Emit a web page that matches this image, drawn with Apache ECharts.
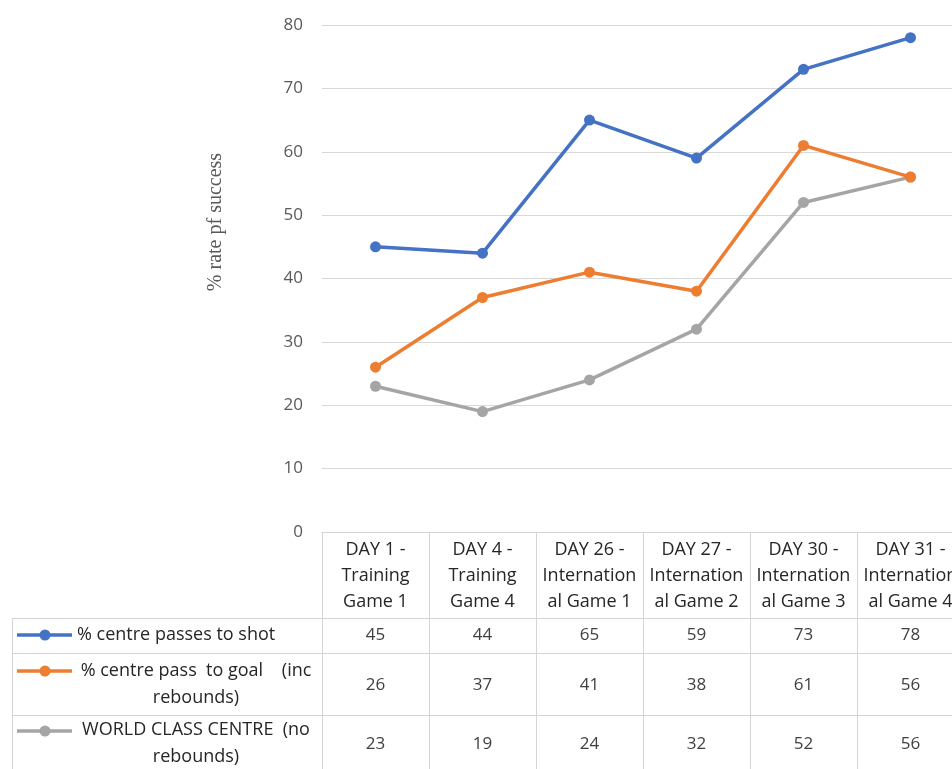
<!DOCTYPE html>
<html>
<head>
<meta charset="utf-8">
<script src="https://cdn.jsdelivr.net/npm/echarts@6/dist/echarts.min.js"></script>
<style>
html,body{margin:0;padding:0;background:#fff;}
#c{width:952px;height:769px;}
</style>
</head>
<body>
<div id="c"></div>
<script>
var categories = [
  "DAY 1 -\nTraining\nGame 1",
  "DAY 4 -\nTraining\nGame 4",
  "DAY 26 -\nInternation\nal Game 1",
  "DAY 27 -\nInternation\nal Game 2",
  "DAY 30 -\nInternation\nal Game 3",
  "DAY 31 -\nInternation\nal Game 4"
];
var seriesNames = [
  "% centre passes to shot",
  "% centre pass  to goal    (inc\nrebounds)",
  "WORLD CLASS CENTRE  (no\nrebounds)"
];
var passesToShot = [45, 44, 65, 59, 73, 78];
var passToGoal = [26, 37, 41, 38, 61, 56];
var worldClass = [23, 19, 24, 32, 52, 56];
var yTicks = { min: 0, max: 80, interval: 10 };
var yAxisTitle = "% rate pf success";

var colors = ["#4472C4", "#ED7D31", "#A5A5A5"];
var FONT = "Open Sans";
var border = "#D4D4D4";

var chart = echarts.init(document.getElementById('c'), null, {renderer: 'canvas'});

function rowAxis(values, margin) {
  return {
    type: 'category', gridIndex: 0, position: 'bottom', data: values.map(String),
    boundaryGap: true,
    axisLine: {show: false}, axisTick: {show: false}, splitLine: {show: false},
    axisLabel: {interval: 0, margin: margin, verticalAlign: 'middle',
      fontFamily: FONT, fontSize: 17, color: '#404040'}
  };
}

var seriesData = [passesToShot, passToGoal, worldClass];

chart.setOption({
  animation: false,
  grid: {left: 322, top: 25, width: 642, height: 507, containLabel: false, outerBoundsMode: 'none'},
  xAxis: [
    {
      type: 'category', data: categories, boundaryGap: true,
      axisLine: {show: true, lineStyle: {color: border, width: 1}},
      axisTick: {show: true, length: 240, lineStyle: {color: border, width: 1}},
      splitLine: {show: false},
      axisLabel: {interval: 0, margin: 44, verticalAlign: 'middle', lineHeight: 26,
        fontFamily: FONT, fontSize: 18, color: '#262626'}
    },
    rowAxis(passesToShot, 103),
    rowAxis(passToGoal, 153),
    rowAxis(worldClass, 212)
  ],
  yAxis: {
    type: 'value', min: yTicks.min, max: yTicks.max, interval: yTicks.interval,
    axisLine: {show: false}, axisTick: {show: false},
    splitLine: {lineStyle: {color: '#D9D9D9', width: 1}},
    axisLabel: {margin: 19, fontFamily: FONT, fontSize: 17, color: '#595959'}
  },
  series: seriesData.map(function (d, i) {
    return {
      name: seriesNames[i], type: 'line', data: d, xAxisIndex: 0,
      symbol: 'circle', symbolSize: 11,
      lineStyle: {color: colors[i], width: 3.5},
      itemStyle: {color: colors[i]},
      z: 3 - i
    };
  }),
  graphic: [
    {type: 'text', x: 216, y: 222, rotation: Math.PI / 2,
      style: {text: yAxisTitle, fill: '#595959', font: '20px "Liberation Serif"',
        align: 'center', verticalAlign: 'middle'}},
    {type: 'line', shape: {x1: 12, y1: 618.5, x2: 952, y2: 618.5}, style: {stroke: border, lineWidth: 1}},
    {type: 'line', shape: {x1: 12, y1: 653.5, x2: 952, y2: 653.5}, style: {stroke: border, lineWidth: 1}},
    {type: 'line', shape: {x1: 12, y1: 715.5, x2: 952, y2: 715.5}, style: {stroke: border, lineWidth: 1}},
    {type: 'line', shape: {x1: 12.5, y1: 618, x2: 12.5, y2: 769}, style: {stroke: border, lineWidth: 1}},
    {type: 'line', shape: {x1: 17, y1: 635, x2: 72, y2: 635}, style: {stroke: colors[0], lineWidth: 3.5}},
    {type: 'circle', shape: {cx: 45, cy: 635, r: 5.5}, style: {fill: colors[0]}},
    {type: 'line', shape: {x1: 17, y1: 671, x2: 72, y2: 671}, style: {stroke: colors[1], lineWidth: 3.5}},
    {type: 'circle', shape: {cx: 45, cy: 671, r: 5.5}, style: {fill: colors[1]}},
    {type: 'line', shape: {x1: 17, y1: 731, x2: 72, y2: 731}, style: {stroke: colors[2], lineWidth: 3.5}},
    {type: 'circle', shape: {cx: 45, cy: 731, r: 5.5}, style: {fill: colors[2]}},
    {type: 'text', x: 77, y: 635, style: {text: seriesNames[0], fill: '#262626',
      font: '18px "' + FONT + '"', align: 'left', verticalAlign: 'middle'}},
    {type: 'text', x: 196, y: 684, style: {text: seriesNames[1], fill: '#262626',
      font: '18px "' + FONT + '"', align: 'center', verticalAlign: 'middle', lineHeight: 27}},
    {type: 'text', x: 196, y: 743, style: {text: seriesNames[2], fill: '#262626',
      font: '18px "' + FONT + '"', align: 'center', verticalAlign: 'middle', lineHeight: 27}}
  ]
});
</script>
</body>
</html>
